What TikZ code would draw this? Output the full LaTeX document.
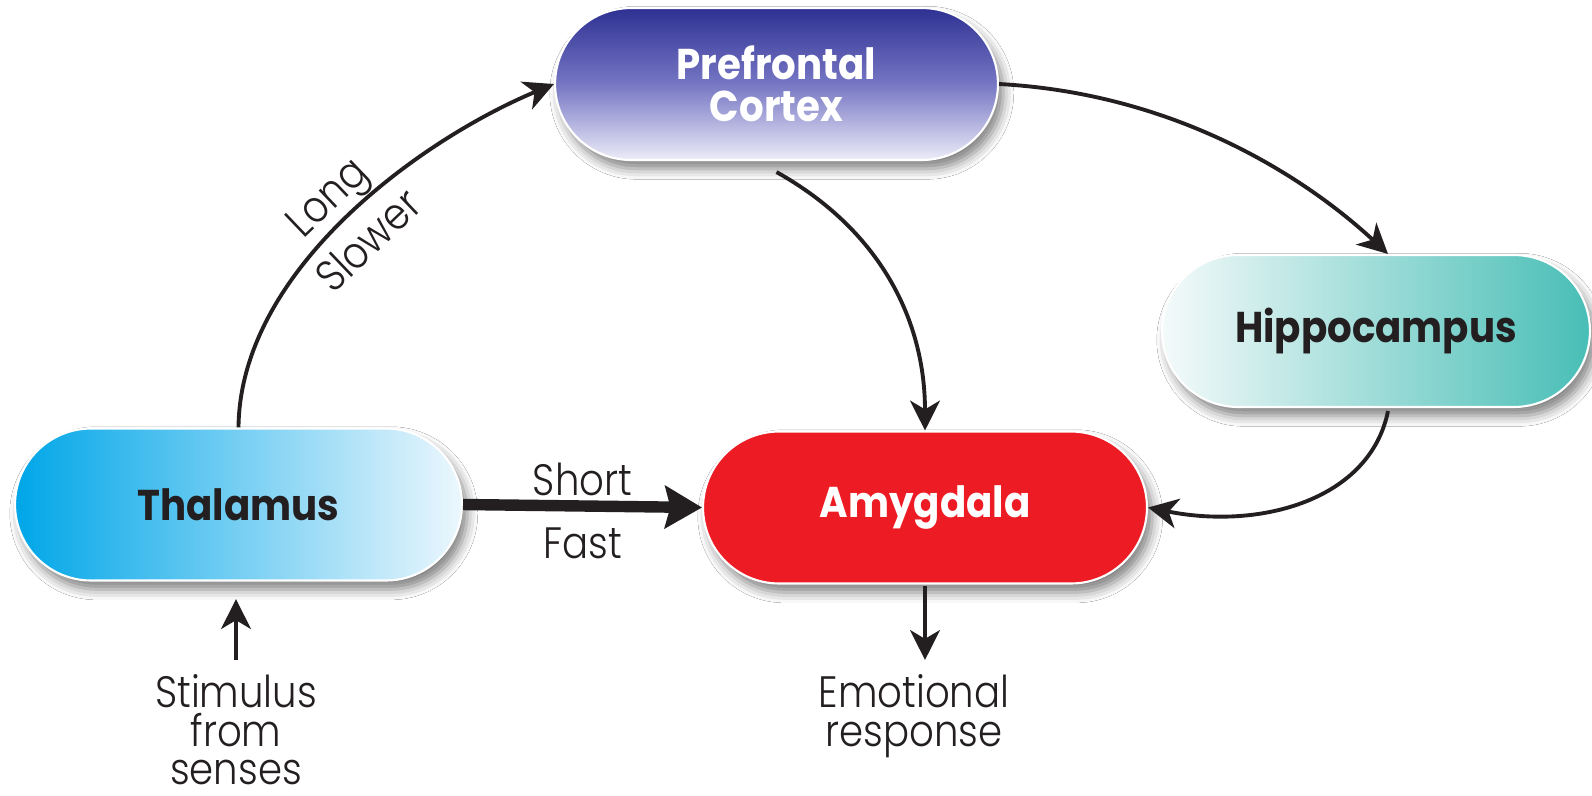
\documentclass[tikz,border=0pt]{standalone}
\usepackage{fontspec}
\usetikzlibrary{shapes.misc,shadows.blur,arrows.meta,calc}
\newfontfamily\headfont[FakeStretch=0.9]{Poppins}
\newfontfamily\notefont[FakeStretch=0.88]{Poppins Light}
\definecolor{pfcTop}{RGB}{46,49,146}
\definecolor{pfcMid}{RGB}{118,118,196}
\definecolor{pfcBot}{RGB}{236,236,248}
\definecolor{thalL}{RGB}{0,166,232}
\definecolor{thalR}{RGB}{236,247,253}
\definecolor{hipL}{RGB}{244,250,250}
\definecolor{hipR}{RGB}{72,190,182}
\definecolor{amyRed}{RGB}{237,28,36}
\definecolor{inkdark}{RGB}{35,31,32}
\begin{document}
\begin{tikzpicture}[x=0.02cm, y=-0.02cm,
  region/.style={rounded rectangle, minimum height=3.04cm, inner sep=0pt,
    draw=white, line width=1.2pt,
    blur shadow={shadow xshift=3pt, shadow yshift=-5pt, shadow blur radius=6pt, shadow opacity=50},
    font=\headfont\bfseries\fontsize{24.5}{24}\selectfont, align=center},
  note/.style={font=\notefont\fontsize{25}{22}\selectfont, text=inkdark, align=center, inner sep=0pt},
  link/.style={draw=inkdark, line width=2.2pt, -{Stealth[length=17pt,width=17pt,inset=5pt]}},
  fastlink/.style={draw=inkdark, line width=6.5pt, -{Stealth[length=21pt,width=24pt,inset=3pt]}}
]
\fill[white] (0,0) rectangle (1592,795);
\useasboundingbox (0,0) rectangle (1592,795);

% brain regions
\node[region, minimum width=8.86cm, top color=pfcTop, bottom color=pfcBot, middle color=pfcMid, text=white]
  (pfc) at (776.5,84) {Prefrontal\\Cortex};
\node[region, minimum width=8.94cm, left color=thalL, right color=thalR, text=inkdark]
  (thal) at (238.5,504.5) {Thalamus};
\node[region, minimum width=8.88cm, fill=amyRed, text=white]
  (amy) at (925,507.5) {Amygdala};
\node[region, minimum width=8.56cm, left color=hipL, right color=hipR, text=inkdark]
  (hip) at (1376,331) {Hippocampus};

% inputs and outputs
\node[note, anchor=north] (stim) at (236,674) {Stimulus\\from\\senses};
\node[note, anchor=north] (resp) at (914,674) {Emotional\\response};

% pathways
\draw[link] (thal.north) .. controls (240,270) and (420,140) .. (pfc.west)
  node[note, pos=0.5, sloped, anchor=base, yshift=8pt] {Long}
  node[note, pos=0.5, sloped, anchor=north, yshift=-7pt] {Slower};
\draw[fastlink] (thal.east) -- (amy.west)
  node[note, pos=0.5, anchor=base, yshift=6pt] {Short}
  node[note, pos=0.5, anchor=base, yshift=-30pt] {Fast};
\draw[link] ($(pfc.south)+(0,11)$) .. controls (880,230) and (925,320) .. (amy.north);
\draw[link] (pfc.east) .. controls (1200,95) and (1330,200) .. ($(hip.north)+(12,0)$);
\draw[link] ($(hip.south)+(12,3)$) .. controls (1370,500) and (1260,530) .. (amy.east);
\draw[link, shorten <=8pt, shorten >=10pt] (stim.north) -- (stim.north |- thal.south);
\draw[link, shorten <=1pt, shorten >=8pt] (amy.south) -- (amy.south |- resp.north);
\end{tikzpicture}
\end{document}
